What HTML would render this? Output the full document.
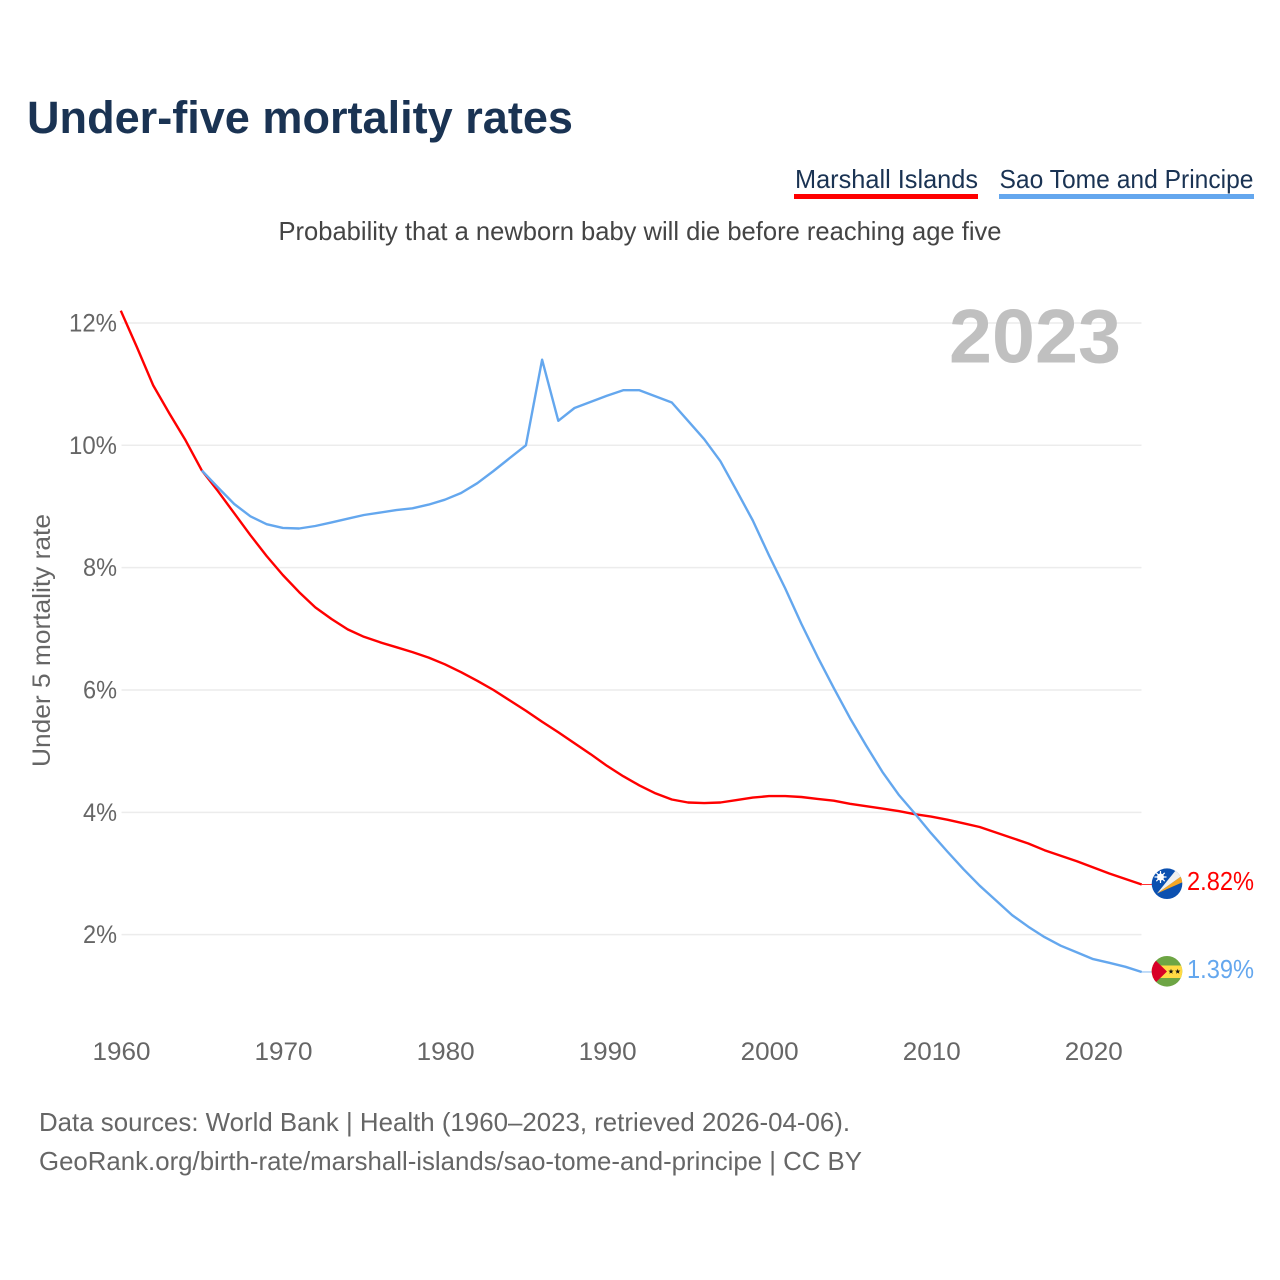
<!DOCTYPE html>
<html lang="en">
<head>
<meta charset="utf-8">
<title>Under-five mortality rates</title>
<style>
html,body{margin:0;padding:0;background:#fff;width:1280px;height:1280px;overflow:hidden}
svg{display:block}
text{font-family:"Liberation Sans",sans-serif}
</style>
</head>
<body>
<svg id="chart" xmlns="http://www.w3.org/2000/svg" width="1280" height="1280" viewBox="0 0 1280 1280">
  <rect width="1280" height="1280" fill="#fff"/>
  <text x="27" y="133" font-size="45" font-weight="700" fill="#1a3353" textLength="546" lengthAdjust="spacingAndGlyphs">Under-five mortality rates</text>

  <text x="795" y="188" font-size="26" fill="#1a3353" textLength="183" lengthAdjust="spacingAndGlyphs">Marshall Islands</text>
  <rect x="794" y="194" width="184" height="5" fill="#ff0000"/>
  <text x="999.500" y="188" font-size="26" fill="#1a3353" textLength="254" lengthAdjust="spacingAndGlyphs">Sao Tome and Principe</text>
  <rect x="999" y="194" width="255" height="5" fill="#64a7ee"/>

  <text x="278.500" y="240" font-size="26" fill="#444" textLength="723" lengthAdjust="spacingAndGlyphs">Probability that a newborn baby will die before reaching age five</text>

  <g id="grid"></g>
  <text x="949" y="362.500" font-size="76" font-weight="700" fill="#c0c0c0" textLength="172" lengthAdjust="spacingAndGlyphs">2023</text>
  <text transform="translate(50,767) rotate(-90)" font-size="25" fill="#666" textLength="253" lengthAdjust="spacingAndGlyphs">Under 5 mortality rate</text>
  <g id="yticks"></g>
  <g id="xticks"></g>
  <g id="series"></g>

  <g>
    <clipPath id="clipA"><circle cx="1167" cy="883.700" r="15.300"/></clipPath>
    <g clip-path="url(#clipA)">
      <rect x="1150" y="866" width="34" height="36" fill="#0b50b0"/>
      <polygon points="1157,893.500 1183,875 1183,882" fill="#f5a623"/>
      <polygon points="1157,893.500 1176,870 1183,875" fill="#f0f0f0"/>
      <circle cx="1160.500" cy="877" r="3.500" fill="#fff"/>
      <path d="M1160.500 871V883M1154.500 877H1166.500M1156.300 872.800L1164.700 881.200M1164.700 872.800L1156.300 881.200" stroke="#fff" stroke-width="1.200"/>
    </g>
  </g>
  <g>
    <clipPath id="clipB"><circle cx="1167" cy="971.300" r="15.300"/></clipPath>
    <g clip-path="url(#clipB)">
      <rect x="1150" y="955" width="34" height="33" fill="#6da544"/>
      <rect x="1150" y="965.500" width="34" height="12.500" fill="#ffda44"/>
      <polygon points="1150,955 1167,971.500 1150,988" fill="#d80027"/>
      <polygon transform="translate(1171,971.500)" points="0,-2.800 .65,-.9 2.660,-.87 1.050,.34 1.650,2.270 0,1.100 -1.650,2.270 -1.050,.34 -2.660,-.87 -.65,-.9" fill="#111"/>
      <polygon transform="translate(1177.700,971.500)" points="0,-2.800 .65,-.9 2.660,-.87 1.050,.34 1.650,2.270 0,1.100 -1.650,2.270 -1.050,.34 -2.660,-.87 -.65,-.9" fill="#111"/>
    </g>
  </g>
  <g id="endlabels"></g>

  <text x="39" y="1131" font-size="26" fill="#666" textLength="811" lengthAdjust="spacingAndGlyphs">Data sources: World Bank | Health (1960–2023, retrieved 2026-04-06).</text>
  <text x="39" y="1170" font-size="26" fill="#666" textLength="823" lengthAdjust="spacingAndGlyphs">GeoRank.org/birth-rate/marshall-islands/sao-tome-and-principe | CC BY</text>
</svg>
<script>
const startYear = 1960;
const yTickValues = [2, 4, 6, 8, 10, 12];
const xTickYears = [1960, 1970, 1980, 1990, 2000, 2010, 2020];
const marshallStartYear = 1960;
const marshallValues = [12.2,11.6,10.98,10.52,10.08,9.59,9.25,8.89,8.53,8.19,7.88,7.6,7.35,7.16,6.99,6.87,6.78,6.7,6.62,6.53,6.42,6.29,6.15,6.0,5.83,5.66,5.48,5.31,5.13,4.95,4.76,4.59,4.44,4.31,4.21,4.16,4.15,4.16,4.2,4.24,4.265,4.265,4.25,4.22,4.19,4.14,4.1,4.06,4.02,3.97,3.93,3.88,3.82,3.76,3.67,3.58,3.49,3.38,3.29,3.2,3.1,3.0,2.91,2.82];
const saoTomeStartYear = 1965;
const saoTomeValues = [9.59,9.31,9.04,8.84,8.71,8.65,8.64,8.68,8.74,8.8,8.86,8.9,8.94,8.97,9.03,9.11,9.22,9.38,9.58,9.79,10,11.4,10.4,10.61,10.71,10.81,10.9,10.9,10.8,10.7,10.4,10.1,9.74,9.26,8.77,8.2,7.66,7.08,6.54,6.03,5.54,5.09,4.66,4.29,3.98,3.66,3.36,3.07,2.8,2.56,2.32,2.13,1.96,1.82,1.71,1.6,1.54,1.475,1.39];
const marshallLabel = "2.82%";
const saoTomeLabel = "1.39%";

const NS = "http://www.w3.org/2000/svg";
const xScale = year => 120.8 + (year - startYear) * 16.205;
const yScale = value => 1057 - value * 61.17;

function makeEl(tag, attrs, parent, content) {
  const el = document.createElementNS(NS, tag);
  for (const key in attrs) el.setAttribute(key, attrs[key]);
  if (content !== undefined) el.textContent = content;
  parent.appendChild(el);
  return el;
}

const grid = document.getElementById("grid");
const yticks = document.getElementById("yticks");
yTickValues.forEach(v => {
  const line = makeEl("line", {x1: 121.5, x2: 1141.5, y1: yScale(v), y2: yScale(v), stroke: "#ececec", "stroke-width": 1.5}, grid);
  
  
  const label = makeEl("text", {x: 117, y: yScale(v) + 8.5, "text-anchor": "end", "font-size": 25, fill: "#666", textLength: v >= 10 ? 48 : 34, lengthAdjust: "spacingAndGlyphs"}, yticks, v + "%");
  
  
});

const xticks = document.getElementById("xticks");
xTickYears.forEach(y => {
  const label = makeEl("text", {x: xScale(y) + 0.7, y: 1060, "text-anchor": "middle", "font-size": 25, fill: "#666", textLength: 58, lengthAdjust: "spacingAndGlyphs"}, xticks, String(y));
  
  
});

const seriesGroup = document.getElementById("series");
function drawSeries(values, firstYear, color) {
  const pts = values.map((v, i) => xScale(firstYear + i).toFixed(1) + "," + yScale(v).toFixed(1));
  const line = makeEl("polyline", {points: pts.join(" "), fill: "none", stroke: color, "stroke-width": 2.4, "stroke-linejoin": "round"}, seriesGroup);
  const lastY = yScale(values[values.length - 1]);
  const lastX = xScale(firstYear + values.length - 1);
  const connector = makeEl("line", {x1: lastX, x2: 1153, y1: lastY, y2: lastY, stroke: color, "stroke-width": 1, opacity: 0.8}, seriesGroup);
  return [line, connector];
}
const [redLine, redConnector] = drawSeries(marshallValues, marshallStartYear, "#ff0000");




const [blueLine, blueConnector] = drawSeries(saoTomeValues, saoTomeStartYear, "#64a7ee");





const endlabels = document.getElementById("endlabels");
const redEnd = makeEl("text", {x: 1254, y: 890, "text-anchor": "end", "font-size": 26, fill: "#ff0000", textLength: 67, lengthAdjust: "spacingAndGlyphs"}, endlabels, marshallLabel);


const blueEnd = makeEl("text", {x: 1254, y: 978, "text-anchor": "end", "font-size": 26, fill: "#64a7ee", textLength: 67, lengthAdjust: "spacingAndGlyphs"}, endlabels, saoTomeLabel);


</script>
</body>
</html>
